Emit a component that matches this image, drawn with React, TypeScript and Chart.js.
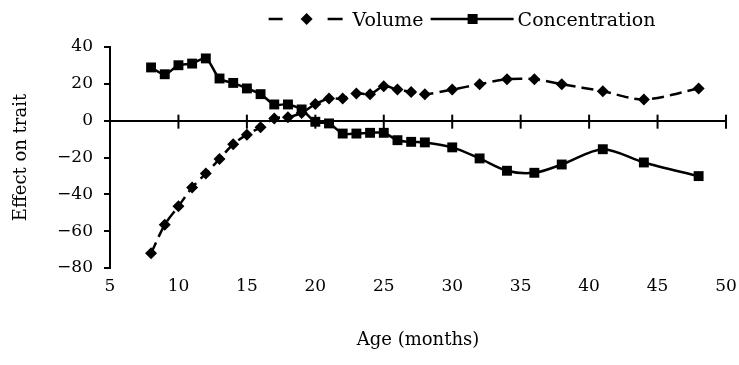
import React, { useEffect, useRef } from 'react';
import { Chart, registerables } from 'chart.js';

Chart.register(...registerables);

const ages = [8, 9, 10, 11, 12, 13, 14, 15, 16, 17, 18, 19, 20, 21, 22, 23, 24, 25, 26, 27, 28, 30, 32, 34, 36, 38, 41, 44, 48];
const volume = [-72, -56.5, -46.5, -36.3, -28.7, -20.8, -12.8, -7.6, -3.6, 1.2, 1.9, 4.2, 9, 12, 12, 14.8, 14.4, 18.7, 16.9, 15.6, 14.4, 16.9, 19.8, 22.5, 22.5, 19.8, 16, 11.5, 17.5];
const concentration = [28.9, 25.2, 30.1, 31, 33.8, 22.9, 20.5, 17.5, 14.4, 8.8, 8.8, 6.1, -0.6, -1.5, -7, -7, -6.6, -6.6, -10.6, -11.5, -11.8, -14.5, -20.5, -27.2, -28.3, -23.8, -15.5, -22.7, -30.1];
const seriesNames = ['Volume', 'Concentration'];
const xTitle = 'Age (months)';
const yTitle = 'Effect on trait';

const FONT = '"DejaVu Serif", "Liberation Serif", serif';

const zeroTicksPlugin = {
  id: 'zeroTicks',
  beforeDatasetsDraw(chart: any) {
    const { ctx } = chart;
    const xs = chart.scales.x;
    const ys = chart.scales.y;
    const y0 = ys.getPixelForValue(0);
    ctx.save();
    ctx.strokeStyle = '#000';
    ctx.lineWidth = 2;
    xs.ticks.forEach((t: any) => {
      if (t.value === xs.min) return;
      const x = xs.getPixelForValue(t.value);
      ctx.beginPath();
      ctx.moveTo(x, y0 - 6);
      ctx.lineTo(x, y0 + 8);
      ctx.stroke();
    });
    ctx.restore();
  },
};

const legendPlugin = {
  id: 'customLegend',
  afterDraw(chart: any) {
    const { ctx, chartArea } = chart;
    ctx.save();
    ctx.font = `19px ${FONT}`;
    ctx.fillStyle = '#000';
    ctx.strokeStyle = '#000';
    ctx.lineWidth = 2.5;
    const ly = 19;
    const tb = 26;
    const w1 = ctx.measureText(seriesNames[0]).width;
    const w2 = ctx.measureText(seriesNames[1]).width;
    const L1 = 74, L2 = 83, g1 = 10, g2 = 7, g3 = 4;
    const total = L1 + g1 + w1 + g2 + L2 + g3 + w2;
    const center = (chartArea.left + chartArea.right) / 2 + 44;
    let x = center - total / 2;
    ctx.beginPath();
    ctx.moveTo(x, ly); ctx.lineTo(x + 14, ly);
    ctx.moveTo(x + L1 - 15, ly); ctx.lineTo(x + L1, ly);
    ctx.stroke();
    const dx = x + 38;
    ctx.beginPath();
    ctx.moveTo(dx, ly - 6); ctx.lineTo(dx + 6, ly); ctx.lineTo(dx, ly + 6); ctx.lineTo(dx - 6, ly);
    ctx.closePath();
    ctx.fill();
    x += L1 + g1;
    ctx.textBaseline = 'alphabetic';
    ctx.textAlign = 'left';
    ctx.fillText(seriesNames[0], x, tb);
    x += w1 + g2;
    ctx.beginPath();
    ctx.moveTo(x, ly); ctx.lineTo(x + L2, ly);
    ctx.stroke();
    const sx = x + 42;
    ctx.fillRect(sx - 5, ly - 5, 10, 10);
    x += L2 + g3;
    ctx.fillText(seriesNames[1], x, tb);
    ctx.restore();
  },
};

export default function App() {
  const ref = useRef<HTMLCanvasElement | null>(null);

  useEffect(() => {
    document.body.style.margin = '0';
    const canvas = ref.current;
    if (!canvas) return;
    const chart = new Chart(canvas, {
      type: 'line',
      data: {
        datasets: [
          {
            label: seriesNames[0],
            data: ages.map((a, i) => ({ x: a, y: volume[i] })),
            borderColor: '#000',
            backgroundColor: '#000',
            borderWidth: 2.5,
            borderDash: [12, 6],
            pointStyle: 'rectRot',
            pointRadius: 6,
            pointBorderWidth: 0,
            tension: 0.3,
            fill: false,
          },
          {
            label: seriesNames[1],
            data: ages.map((a, i) => ({ x: a, y: concentration[i] })),
            borderColor: '#000',
            backgroundColor: '#000',
            borderWidth: 2.5,
            pointStyle: 'rect',
            pointRadius: 7,
            pointBorderWidth: 0,
            tension: 0.3,
            fill: false,
          },
        ],
      },
      options: {
        responsive: false,
        animation: false,
        layout: { padding: { top: 47, right: 13, left: 0, bottom: 0 } },
        plugins: {
          legend: { display: false },
          tooltip: { enabled: false },
        },
        scales: {
          x: {
            type: 'linear',
            min: 5,
            max: 50,
            border: { display: false },
            grid: { display: false, drawTicks: true, tickLength: 8 },
            ticks: {
              stepSize: 5,
              color: '#000',
              padding: 0,
              font: { family: FONT, size: 17 },
              maxRotation: 0,
            },
            title: {
              display: true,
              text: xTitle,
              color: '#000',
              font: { family: FONT, size: 18 },
              padding: { top: 0, bottom: 14 },
            },
            afterFit: (s: any) => { s.height = 97; },
          },
          y: {
            type: 'linear',
            min: -80,
            max: 40,
            border: { display: true, color: '#000', width: 2 },
            grid: {
              drawOnChartArea: true,
              drawTicks: true,
              tickLength: 6,
              lineWidth: 2,
              color: (c: any) => (c.tick && c.tick.value === 0 ? '#000' : 'rgba(0,0,0,0)'),
              tickColor: '#000',
            },
            ticks: {
              stepSize: 20,
              color: '#000',
              padding: 11,
              font: { family: FONT, size: 17 },
              callback: (v: any) => String(v).replace('-', '\u2212'),
            },
            title: {
              display: true,
              text: yTitle,
              color: '#000',
              font: { family: FONT, size: 18 },
              padding: { top: 11, bottom: 0 },
            },
            afterFit: (s: any) => { s.width = 110; },
          },
        },
      },
      plugins: [zeroTicksPlugin, legendPlugin],
    } as any);
    return () => chart.destroy();
  }, []);

  return (
    <div style={{ width: 739, height: 365 }}>
      <canvas ref={ref} width={739} height={365} />
    </div>
  );
}
